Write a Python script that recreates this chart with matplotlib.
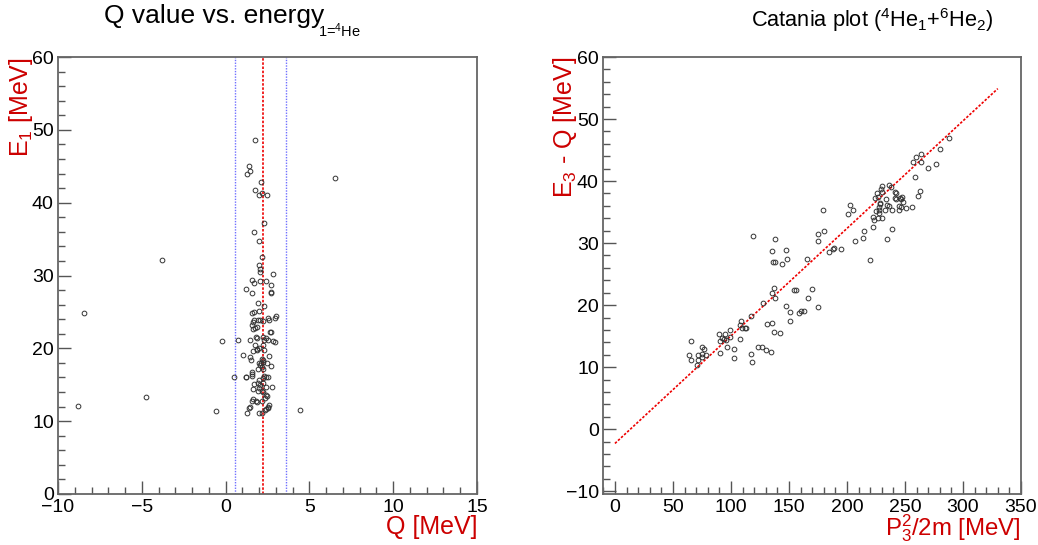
import matplotlib
matplotlib.use("Agg")
import matplotlib.pyplot as plt
from matplotlib.ticker import MultipleLocator

plt.rcParams['font.family'] = ['Liberation Sans', 'DejaVu Sans']
plt.rcParams['mathtext.fontset'] = 'custom'
plt.rcParams['mathtext.rm'] = 'Liberation Sans'
plt.rcParams['mathtext.it'] = 'Liberation Sans:italic'
plt.rcParams['mathtext.bf'] = 'Liberation Sans:bold'

# ---------------- data: left panel (Q, E1) ----------------
left_q = [-8.8, -8.45, -4.75, -3.8, -0.6, -0.2, 0.48, 0.74, 4.45, 6.5,
          1.75, 1.41, 1.47, 1.27, 2.09, 1.77, 2.17, 2.01, 2.45, 2.31, 1.68, 1.97,
          2.15, 1.99, 2.07, 2.04, 2.84, 1.59, 1.71, 2.05, 2.43, 2.73, 1.23, 2.73, 2.73, 1.59,
          1.95, 2.27, 1.70, 1.56, 1.99, 3.0, 2.94, 2.53, 2.59, 1.68, 1.91, 2.07, 2.23, 1.66,
          1.58, 1.77, 1.89, 1.66, 2.62, 2.73, 2.21, 2.29, 1.83, 1.85, 1.44, 2.55, 2.41, 2.83,
          2.93, 2.21, 1.75, 1.97, 1.89, 1.85, 1.66, 2.29, 2.57, 1.02, 1.44, 1.52, 2.15, 2.21,
          2.25, 2.11, 1.97, 2.05, 2.49, 2.71, 2.15, 1.95, 2.25, 1.6, 1.6, 1.6, 1.2, 1.22,
          2.31, 2.39, 2.53, 2.25, 1.97, 1.91, 2.21, 1.70, 2.07, 1.97, 2.41, 2.77, 1.66, 2.15,
          2.21, 1.91, 2.39, 2.49, 2.35, 1.66, 1.80, 1.56, 1.85, 2.15, 2.59, 2.55, 2.51, 2.43,
          2.37, 1.46, 1.41, 1.28, 2.01, 2.19]
left_e = [12.1, 24.9, 13.3, 32.1, 11.4, 21.0, 16.0, 21.2, 11.5, 43.4,
          48.6, 45.0, 44.3, 43.9, 42.9, 41.8, 41.3, 41.0, 41.0, 37.2, 36.0, 34.8,
          32.5, 31.5, 30.9, 30.5, 30.2, 29.4, 29.0, 29.3, 29.2, 28.7, 28.2, 27.8, 27.6, 27.6,
          26.2, 25.8, 25.0, 24.9, 25.1, 24.4, 24.2, 24.1, 23.9, 23.85, 23.85, 23.85, 23.7, 23.6,
          23.2, 22.8, 22.9, 22.6, 22.3, 22.2, 21.5, 21.2, 21.5, 21.4, 21.2, 21.2, 21.4, 21.0,
          20.9, 20.5, 20.4, 20.0, 19.8, 19.9, 19.6, 19.8, 19.0, 19.05, 18.8, 18.4, 18.6, 18.4,
          18.1, 17.95, 17.95, 17.7, 17.95, 17.6, 17.4, 17.1, 17.2, 16.8, 16.5, 16.2, 16.1, 16.0,
          16.2, 16.0, 16.0, 15.9, 15.6, 15.2, 15.2, 15.1, 14.9, 14.6, 14.65, 14.7, 14.4, 14.1,
          14.0, 14.15, 13.6, 13.4, 13.2, 13.05, 12.8, 12.8, 12.7, 12.8, 12.2, 12.0, 11.85, 11.7,
          11.6, 12.0, 11.8, 11.1, 11.1, 11.1]

q_center = 2.22
q_window = [0.56, 3.62]

# ---------------- data: right panel (P3^2/2m, E3 - Q) ----------------
right_p = [118.7, 138.2, 135.3, 147.1, 136.2, 137.9, 148, 144.3, 175.3, 175, 165.2, 136.8,
           135.6, 137.9, 127.6, 154, 156.3, 169.5, 166.1, 147.1, 175, 151.1, 158.6, 160.3,
           163.2, 151.1, 117, 108.9, 107.8, 109.5, 111.8, 113.2, 99.4, 89.7, 94.6, 92, 93.7,
           96, 90.8, 98.9, 107.5, 131, 135.3, 136.8, 142.2, 65.3, 75, 77, 96.8, 123.5, 126.7,
           130.4, 134.7, 63.8, 71.8, 75, 78.7, 75.3, 90.3, 102.8, 117.2, 65.8, 71.3, 102.8,
           118.1, 70.9,
           288.2, 279.9, 264.1, 259.7, 257.2, 264.1, 276.5, 270.1, 258.6, 236.2, 237.9, 230.4,
           229.3, 229.9, 225.6, 227, 223.9, 241.6, 242.5, 262.7, 261.2, 233.9, 241.4, 242.5,
           246, 247.7, 246.8, 248, 228.7, 228.4, 227.3, 225.3, 227.8, 227.3, 234.5, 236.2,
           233, 239, 245.1, 246.6, 245.1, 250.9, 256.3, 202.9, 200.6, 204.9, 222.7, 223.3,
           227, 229.9, 222.2, 179, 214.7, 214.1, 206.9, 239, 234.7, 180.4, 189, 188.2, 184.5,
           195.1, 220.1]
right_eq = [31.1, 30.7, 28.8, 28.9, 27.0, 26.9, 27.4, 26.7, 31.4, 30.3, 27.5, 22.7,
            21.9, 21.2, 20.4, 22.4, 22.5, 22.6, 21.1, 19.8, 19.7, 18.9, 18.8, 19.0,
            19.1, 17.5, 18.2, 17.5, 16.8, 16.3, 16.3, 16.3, 16.0, 15.4, 15.4, 14.7, 14.5,
            14.4, 14.2, 14.8, 14.5, 16.9, 17.1, 15.6, 15.5, 14.2, 13.2, 12.95, 13.3, 13.3, 13.2,
            12.7, 12.4, 11.9, 11.9, 12.1, 12.0, 11.7, 12.3, 12.85, 12.2, 11.1, 11.1, 11.4,
            10.9, 10.3,
            47.0, 45.2, 44.3, 43.8, 43.0, 43.0, 42.7, 42.1, 40.6, 39.4, 39.1, 39.2,
            38.7, 38.2, 38.1, 37.5, 37.3, 38.3, 38.0, 38.4, 37.6, 37.1, 37.3, 37.1,
            37.3, 37.5, 37.05, 36.7, 36.5, 36.3, 35.8, 35.2, 35.4, 34.8, 36.2, 36.0,
            35.4, 35.4, 35.9, 35.8, 35.3, 35.6, 35.8, 36.2, 34.7, 35.4, 34.2, 33.8,
            34.1, 34.1, 32.6, 35.4, 31.9, 30.9, 30.4, 32.2, 30.6, 32.0, 29.2, 29.0, 28.5,
            29.1, 27.3]

fit_x = [0, 330]
fit_y = [-2.3, 54.9]

RED = '#cc0000'
FRAME = '#666666'
TICKC = '#555555'

fig = plt.figure(figsize=(10.38, 5.45), dpi=100)
ax1 = fig.add_axes([58/1038, 51/545, 419/1038, 437/545])
ax2 = fig.add_axes([603/1038, 51/545, 418/1038, 437/545])


def style(ax, xmaj, xmin, ymaj, ymin):
    for s in ax.spines.values():
        s.set_color(FRAME)
        s.set_linewidth(1.3)
    ax.xaxis.set_major_locator(MultipleLocator(xmaj))
    ax.xaxis.set_minor_locator(MultipleLocator(xmin))
    ax.yaxis.set_major_locator(MultipleLocator(ymaj))
    ax.yaxis.set_minor_locator(MultipleLocator(ymin))
    ax.tick_params(which='both', direction='in', top=False, right=False,
                   color=TICKC, labelsize=14, labelcolor='black')
    ax.tick_params(axis='x', which='major', length=9.5, width=1.0, pad=3.5)
    ax.tick_params(axis='x', which='minor', length=5, width=1.0)
    ax.tick_params(axis='y', which='major', length=9.5, width=1.0, pad=3)
    ax.tick_params(axis='y', which='minor', length=5, width=1.0)


marker_kw = dict(linestyle='none', marker='o', markersize=3.4, markerfacecolor='none',
                 markeredgecolor='#333333', markeredgewidth=0.7)

LABEL_FS = 18

# Left panel
ax1.plot(left_q, left_e, **marker_kw, zorder=3)
for xv in q_window:
    ax1.axvline(xv, color='#7070ff', linestyle=(0, (1, 1)), linewidth=1.0, zorder=2)
ax1.axvline(q_center, color='#ee0000', linestyle=(0, (1.5, 1)), linewidth=1.2, zorder=2)
ax1.set_xlim(-10, 15)
ax1.set_ylim(0, 60)
style(ax1, 5, 1, 10, 2)
ax1.set_xlabel('Q [MeV]', color=RED, fontsize=LABEL_FS, loc='right')
ax1.set_ylabel(r'E$_{1}$ [MeV]', color=RED, fontsize=LABEL_FS, loc='top')
ax1.xaxis.set_label_coords(1.0, -0.049)
ax1.yaxis.set_label_coords(-0.056, 1.0)

# Right panel
ax2.plot(right_p, right_eq, **marker_kw, zorder=3)
ax2.plot(fit_x, fit_y, color='#ee0000', linestyle=(0, (1.5, 1)), linewidth=1.2, zorder=2)
ax2.set_xlim(-10.3, 350)
ax2.set_ylim(-10.45, 60)
style(ax2, 50, 10, 10, 2)
ax2.set_xlabel(r'P$_{3}^{2}$/2m [MeV]', color=RED, fontsize=17.3, loc='right')
ax2.set_ylabel(r'E$_{3}$ - Q [MeV]', color=RED, fontsize=LABEL_FS, loc='top')
ax2.xaxis.set_label_coords(1.0, -0.043)
ax2.yaxis.set_label_coords(-0.057, 1.0)

# Titles
fig.text(104/1038, 1 - 23/545, 'Q value vs. energy',
         ha='left', va='baseline', fontsize=19)
fig.text(318/1038, 1 - 37/545, r'1=$^{4}$He',
         ha='left', va='baseline', fontsize=10.5)
fig.text(872/1038, 1 - 27/545, r'Catania plot ($^{4}$He$_{1}$+$^{6}$He$_{2}$)',
         ha='center', va='baseline', fontsize=15.7)

fig.savefig('out.png', dpi=100)
